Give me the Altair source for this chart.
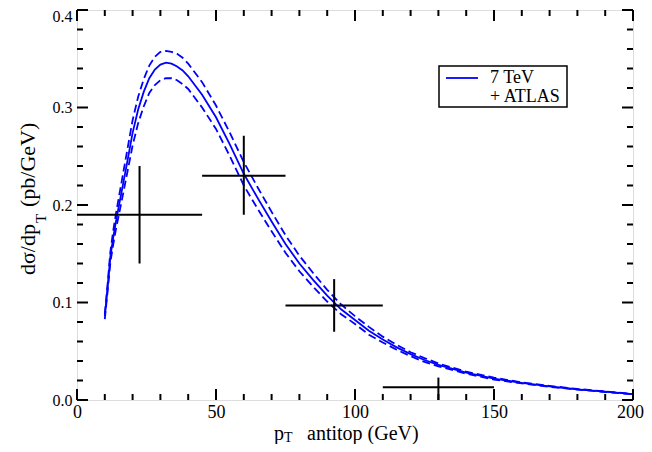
import altair as alt
import pandas as pd

# ---------------- data ----------------
curve_x = [10, 11, 12, 13, 14, 15, 16, 18, 20, 22, 24, 26, 28, 30, 32, 34, 36, 38, 40, 45,
           50, 55, 60, 65, 70, 75, 80, 85, 90, 95, 100, 105, 110, 115, 120, 125, 130, 140,
           150, 160, 170, 180, 190, 200]
central = [0.086, 0.115, 0.147, 0.166, 0.183, 0.198, 0.213, 0.243, 0.274, 0.298, 0.316, 0.330,
           0.339, 0.344, 0.346, 0.345, 0.342, 0.338, 0.332, 0.313, 0.290, 0.262, 0.232, 0.207,
           0.183, 0.160, 0.140, 0.123, 0.107, 0.093, 0.082, 0.071, 0.062, 0.054, 0.047, 0.041,
           0.036, 0.028, 0.022, 0.0175, 0.014, 0.011, 0.0085, 0.006]
upper = [0.088, 0.119, 0.152, 0.173, 0.191, 0.207, 0.223, 0.255, 0.287, 0.311, 0.329, 0.343,
         0.352, 0.357, 0.358, 0.357, 0.355, 0.351, 0.345, 0.326, 0.302, 0.274, 0.244, 0.218,
         0.193, 0.169, 0.148, 0.130, 0.113, 0.098, 0.086, 0.075, 0.065, 0.0565, 0.049, 0.043,
         0.0375, 0.029, 0.023, 0.018, 0.0145, 0.0113, 0.0088, 0.0062]
lower = [0.083, 0.111, 0.141, 0.159, 0.175, 0.189, 0.203, 0.232, 0.261, 0.284, 0.301, 0.315,
         0.323, 0.328, 0.330, 0.330, 0.328, 0.324, 0.319, 0.300, 0.278, 0.250, 0.220, 0.196,
         0.173, 0.151, 0.132, 0.116, 0.101, 0.088, 0.078, 0.067, 0.059, 0.0515, 0.045, 0.039,
         0.0345, 0.027, 0.021, 0.017, 0.0135, 0.0107, 0.0082, 0.0058]

atlas_x = [22.5, 60, 92.5, 130]
atlas_xlo = [0, 45, 75, 110]
atlas_xhi = [45, 75, 110, 150]
atlas_y = [0.19, 0.23, 0.097, 0.013]
atlas_ylo = [0.14, 0.19, 0.070, 0.0]
atlas_yhi = [0.24, 0.271, 0.124, 0.023]

x_major = [0, 50, 100, 150, 200]
x_minor = [10, 20, 30, 40, 60, 70, 80, 90, 110, 120, 130, 140, 160, 170, 180, 190]
y_major = [0.0, 0.1, 0.2, 0.3, 0.4]
y_minor = [0.02, 0.04, 0.06, 0.08, 0.12, 0.14, 0.16, 0.18, 0.22, 0.24, 0.26, 0.28,
           0.32, 0.34, 0.36, 0.38]

legend_labels = ["7 TeV", "+ ATLAS"]

# ---------------- layout ----------------
W, H = 556, 390
SERIF = "'Liberation Serif', 'Times New Roman', Times, 'DejaVu Serif', serif"
BLUE = "#0000ff"

xs = alt.Scale(domain=[0, 200], nice=False, zero=False)
ys = alt.Scale(domain=[0, 0.4], nice=False, zero=False)


def xax():
    return alt.Axis(title=None, values=x_major, format="d", ticks=False, domain=False,
                    grid=False, labelFont=SERIF, labelFontSize=18, labelColor="black",
                    labelPadding=3, labelFlush=False,
                    labelOffset={"condition": {"test": "datum.value == 200", "value": -3},
                                 "value": 0})


def yax():
    return alt.Axis(title=None, values=y_major, format=".1f", ticks=False, domain=False,
                    grid=False, labelFont=SERIF, labelFontSize=16, labelColor="black",
                    labelPadding=5, labelFlush=False,
                    labelOffset={"condition": {"test": "datum.value == 0.4", "value": 6},
                                 "value": 0})


curves = pd.DataFrame({
    "x": curve_x * 3,
    "y": central + upper + lower,
    "s": ["central"] * len(curve_x) + ["upper"] * len(curve_x) + ["lower"] * len(curve_x),
})

central_line = alt.Chart(curves).transform_filter(alt.datum.s == "central").mark_line(
    color=BLUE, strokeWidth=1.8
).encode(x=alt.X("x:Q", scale=xs, axis=xax()), y=alt.Y("y:Q", scale=ys, axis=yax()))

dashed = alt.Chart(curves).transform_filter(alt.datum.s != "central").mark_line(
    color=BLUE, strokeWidth=1.8, strokeDash=[8, 4]
).encode(x=alt.X("x:Q", scale=xs, axis=xax()), y=alt.Y("y:Q", scale=ys, axis=yax()),
         detail="s:N")

atlas = pd.DataFrame({"x": atlas_x, "xlo": atlas_xlo, "xhi": atlas_xhi,
                      "y": atlas_y, "ylo": atlas_ylo, "yhi": atlas_yhi})

hbars = alt.Chart(atlas).mark_rule(color="black", strokeWidth=2).encode(
    x=alt.X("xlo:Q", scale=xs, axis=xax()), x2="xhi:Q",
    y=alt.Y("y:Q", scale=ys, axis=yax()))
vbars = alt.Chart(atlas).mark_rule(color="black", strokeWidth=2).encode(
    x=alt.X("x:Q", scale=xs, axis=xax()),
    y=alt.Y("ylo:Q", scale=ys, axis=yax()), y2="yhi:Q")

# inside ticks on all four sides
xt = pd.DataFrame({"x": x_major + x_minor,
                   "len": [11] * len(x_major) + [6] * len(x_minor)})
yt = pd.DataFrame({"y": y_major + y_minor,
                   "len": [11] * len(y_major) + [6] * len(y_minor)})

tick_layers = []
for kind in ("bottom", "top"):
    base = alt.Chart(xt).mark_rule(color="black", strokeWidth=2)
    if kind == "bottom":
        base = base.transform_calculate(p0=f"{H}", p1=f"{H} - datum.len")
    else:
        base = base.transform_calculate(p0="0", p1="datum.len")
    tick_layers.append(base.encode(
        x=alt.X("x:Q", scale=xs, axis=xax()),
        y=alt.Y("p0:Q", scale=None), y2="p1:Q"))
for kind in ("left", "right"):
    base = alt.Chart(yt).mark_rule(color="black", strokeWidth=2)
    if kind == "left":
        base = base.transform_calculate(p0="0", p1="datum.len")
    else:
        base = base.transform_calculate(p0=f"{W}", p1=f"{W} - datum.len")
    tick_layers.append(base.encode(
        y=alt.Y("y:Q", scale=ys, axis=yax()),
        x=alt.X("p0:Q", scale=None), x2="p1:Q"))

# legend box
legend_box = alt.Chart(pd.DataFrame({"a": [0]})).mark_rect(
    fill="white", stroke="black", strokeWidth=1.5
).encode(x=alt.value(362), x2=alt.value(490), y=alt.value(56), y2=alt.value(97))
legend_line = alt.Chart(pd.DataFrame({"a": [0]})).mark_rule(
    color=BLUE, strokeWidth=1.8
).encode(x=alt.value(369), x2=alt.value(401), y=alt.value(68))
legend_txt = alt.Chart(pd.DataFrame({"t": legend_labels, "yy": [73, 92]})).mark_text(
    font=SERIF, fontSize=18, align="left", baseline="alphabetic", color="black"
).encode(text="t:N", x=alt.value(413), y=alt.Y("yy:Q", scale=None))


# axis titles with subscripts
def txt(s, x, y, size, align, angle=0):
    m = dict(font=SERIF, fontSize=size, align=align, baseline="alphabetic", color="black")
    if angle:
        m["angle"] = angle
    return alt.Chart(pd.DataFrame({"t": [s]})).mark_text(**m).encode(
        text="t:N", x=alt.value(x), y=alt.value(y))


titles = [
    txt("p", 207, 430, 20, "right"),
    txt("T", 207, 432, 14, "left"),
    txt("antitop (GeV)", 230, 430, 20, "left"),
    txt("dσ/dp", -42, 214, 22, "right", 270),
    txt("T", -31, 213, 15, "left", 270),
    txt("(pb/GeV)", -42, 197, 22, "left", 270),
]

chart = alt.layer(
    central_line, dashed, hbars, vbars, *tick_layers, legend_box, legend_line, legend_txt,
    *titles
).properties(
    width=W, height=H,
    autosize=alt.AutoSizeParams(type="none"),
    padding={"left": 69, "top": 2, "right": 11, "bottom": 44},
).configure_view(stroke="black", strokeWidth=2).configure(background="white")

chart.save("out.html", embed_options={"renderer": "svg", "actions": False})
